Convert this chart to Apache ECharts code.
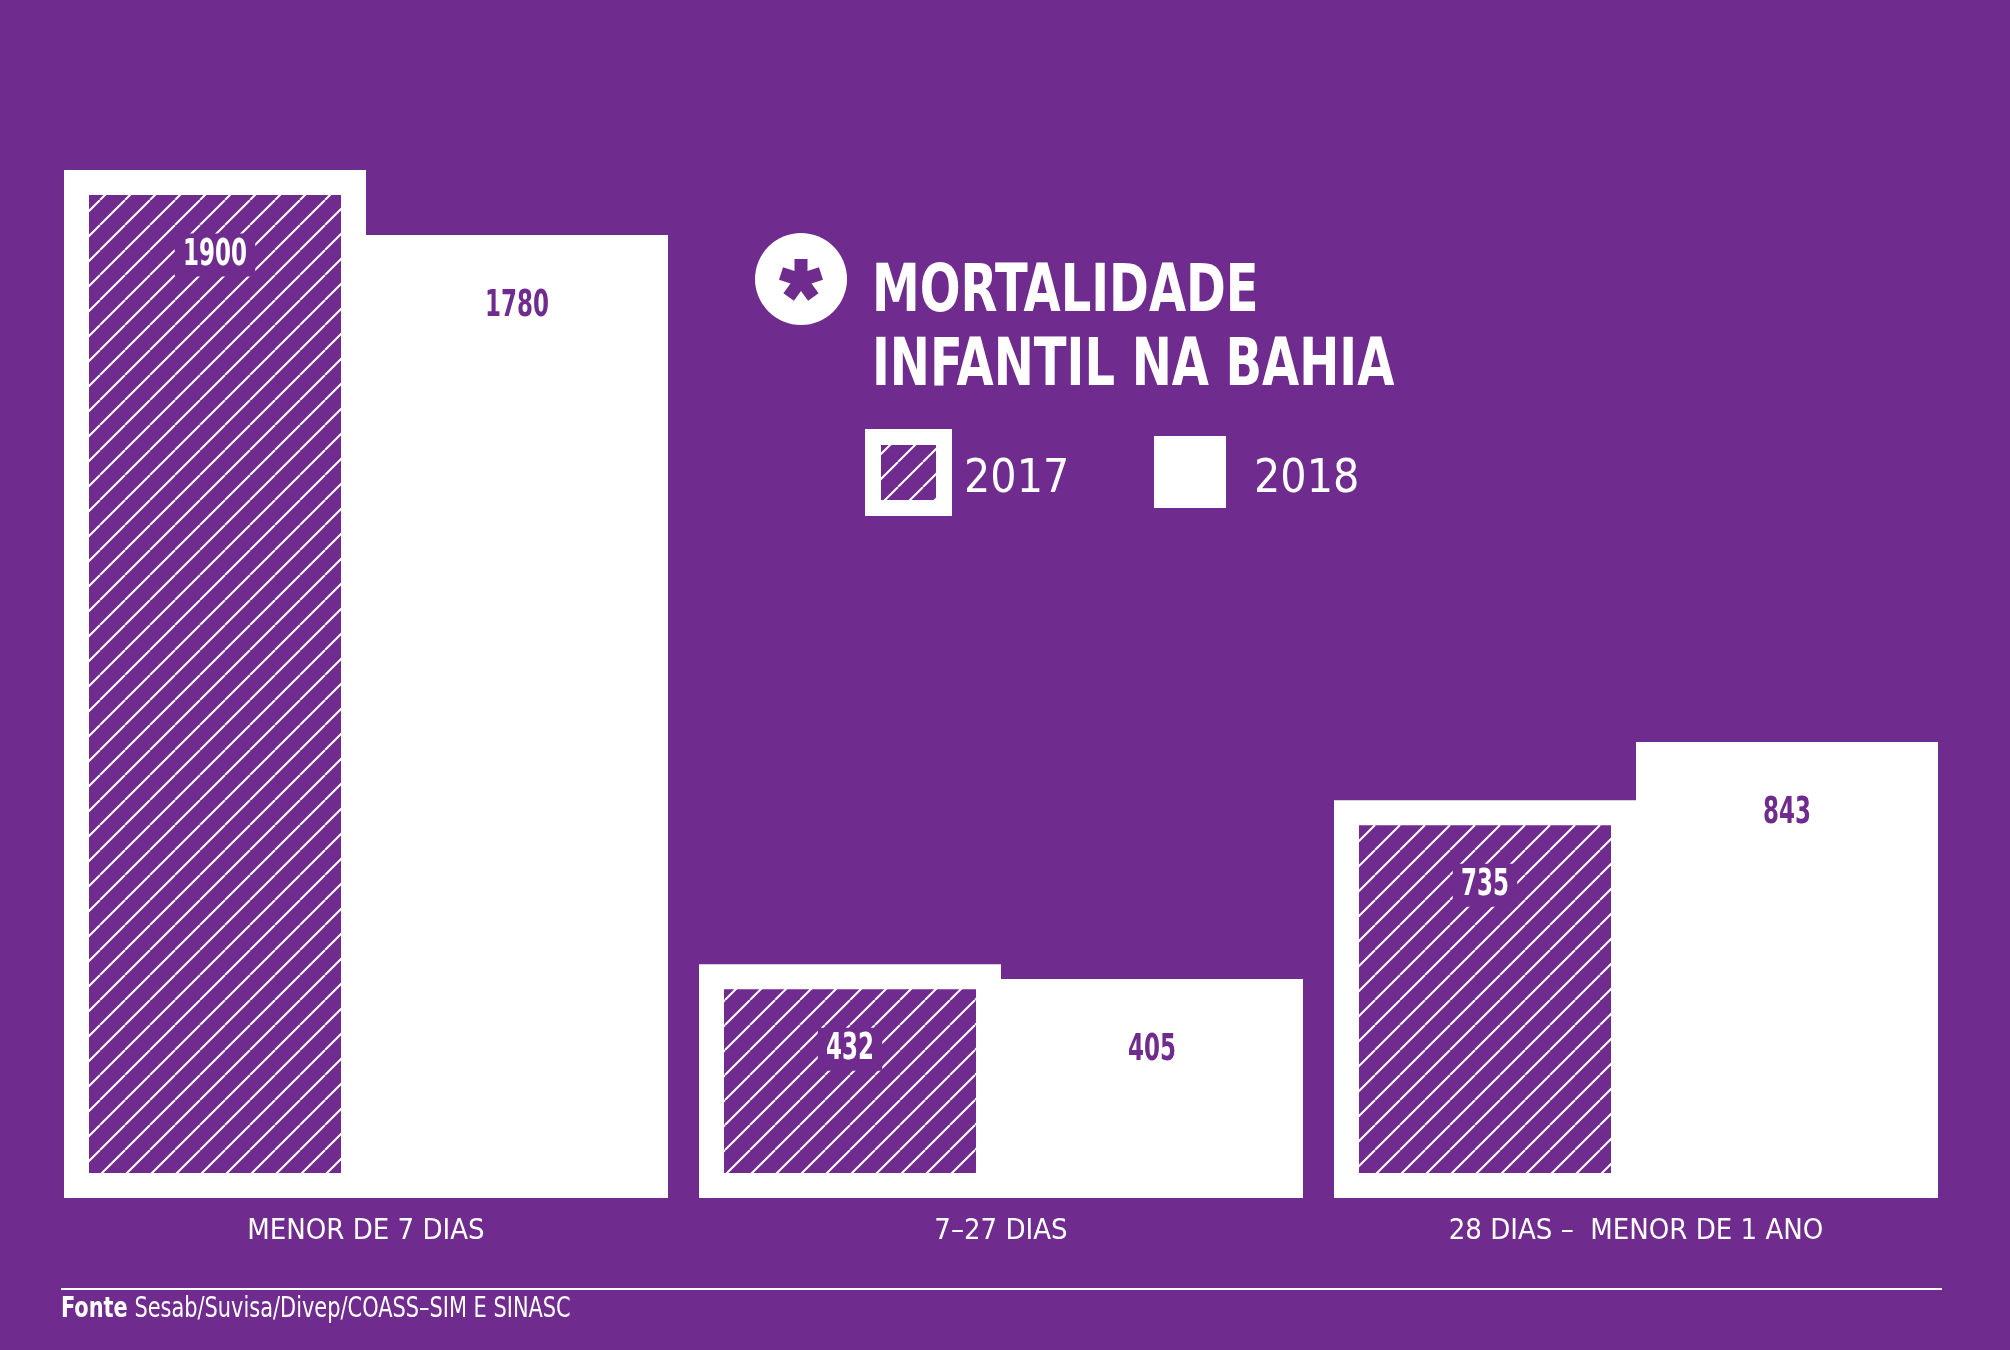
<!DOCTYPE html>
<html>
<head>
<meta charset="utf-8">
<script src="https://cdn.jsdelivr.net/npm/echarts@6/dist/echarts.min.js"></script>
<style>
    html, body, #chart {
        width: 100%;
        height: 100%;
        margin: 0px;
    }
</style>
</head>
<body>
<div id="chart"></div>
<script>
    var categories = ['MENOR DE 7 DIAS', '7–27 DIAS', '28 DIAS –  MENOR DE 1 ANO'];
    var values2017 = [1900, 432, 735];
    var values2018 = [1780, 405, 843];

    var PURPLE = '#6f2c8e';
    var COND = '"DejaVu Sans Condensed", "Liberation Sans Narrow", sans-serif';
    var BAR_W = 302;      // width of each bar
    var FRAME = 25;       // white frame around the hatched 2017 bar
    var SQUEEZE = 0.69;   // the source uses a very condensed face for the numbers

    // diagonal hatch tile
    function makeHatch() {
        var s = 25;
        var c = document.createElement('canvas');
        c.width = s;
        c.height = s;
        var g = c.getContext('2d');
        g.fillStyle = PURPLE;
        g.fillRect(0, 0, s, s);
        g.strokeStyle = '#fff';
        g.lineWidth = 2;
        g.beginPath();
        for (var k = -1; k <= 1; k++) {
            g.moveTo(k * s, s);
            g.lineTo(k * s + s, 0);
        }
        g.stroke();
        return c;
    }
    var hatch = { image: makeHatch(), repeat: 'repeat' };

    function valueText(x, y, v, color, bg) {
        return {
            type: 'text',
            x: x,
            y: y,
            scaleX: SQUEEZE,
            style: {
                text: String(v),
                fill: color,
                fontSize: 37,
                fontWeight: 'bold',
                fontFamily: COND,
                align: 'center',
                verticalAlign: 'middle',
                backgroundColor: bg,
                padding: bg ? [3, 12] : 0
            }
        };
    }

    // hatched inside of the 2017 bar plus its label
    function render2017(params, api) {
        var i = api.value(0);
        var v = api.value(1);
        var top = api.coord([i, v]);
        var base = api.coord([i, 0]);
        var x = top[0] - BAR_W;
        return {
            type: 'group',
            children: [{
                type: 'rect',
                shape: { x: x + FRAME, y: top[1] + FRAME, width: BAR_W - 2 * FRAME, height: base[1] - top[1] - 2 * FRAME },
                style: { fill: hatch }
            }, valueText(x + BAR_W / 2, top[1] + 85, v, '#fff', PURPLE)]
        };
    }

    // label of the 2018 bar
    function render2018(params, api) {
        var i = api.value(0);
        var v = api.value(1);
        var top = api.coord([i, v]);
        return valueText(top[0] + BAR_W / 2, top[1] + 71, v, PURPLE, null);
    }

    function legendText(padLeft) {
        return {
            color: '#fff', fontSize: 46, fontFamily: COND, padding: [0, 0, 0, padLeft],
            rich: { a: { color: '#fff', fontSize: 46, fontFamily: COND, padding: [16, 0, 0, 0] } }
        };
    }

    var myChart = echarts.init(document.getElementById('chart'));
    var option = {
        backgroundColor: PURPLE,
        animation: false,
        legend: [{
            data: [{ name: '2017', icon: 'rect', itemStyle: { color: hatch, borderColor: '#fff', borderWidth: 16 } }],
            formatter: '{a|{name}}',
            left: 865,
            top: 429,
            padding: 0,
            itemWidth: 71,
            itemHeight: 71,
            selectedMode: false,
            textStyle: legendText(15)
        }, {
            data: [{ name: '2018', icon: 'rect', itemStyle: { color: '#fff', borderWidth: 0 } }],
            formatter: '{a|{name}}',
            left: 1154,
            top: 436,
            padding: 0,
            itemWidth: 72,
            itemHeight: 72,
            selectedMode: false,
            textStyle: legendText(23)
        }],
        grid: { left: 48.5, right: 56.5, top: 116, bottom: 152 },
        xAxis: {
            type: 'category',
            data: categories,
            axisLine: { show: false },
            axisTick: { show: false },
            axisLabel: { color: '#fff', fontSize: 29, fontFamily: COND, margin: 19, interval: 0 }
        },
        yAxis: {
            type: 'value',
            min: 0,
            max: 2000,
            show: false,
            splitLine: { show: false }
        },
        graphic: [{
            type: 'text',
            x: 872,
            y: 257,
            scaleX: 0.82,
            style: {
                text: 'MORTALIDADE\nINFANTIL NA BAHIA',
                fill: '#fff',
                fontSize: 65,
                fontWeight: 'bold',
                fontFamily: COND,
                lineHeight: 74,
                verticalAlign: 'top'
            }
        }, {
            type: 'circle',
            shape: { cx: 801, cy: 279, r: 46 },
            style: { fill: '#fff' }
        }, {
            type: 'group',
            x: 801,
            y: 280,
            children: [0, 1, 2, 3, 4].map(function (k) {
                return {
                    type: 'rect',
                    rotation: k * Math.PI * 2 / 5,
                    shape: { x: -6.5, y: -21, width: 13, height: 21 },
                    style: { fill: PURPLE }
                };
            })
        }, {
            type: 'line',
            shape: { x1: 61, y1: 1289, x2: 1942, y2: 1289 },
            style: { stroke: '#fff', lineWidth: 2 }
        }, {
            type: 'text',
            x: 61,
            y: 1296,
            scaleX: 0.83,
            style: {
                text: '{b|Fonte} Sesab/Suvisa/Divep/COASS–SIM E SINASC',
                fill: '#fff',
                fontSize: 28,
                fontFamily: COND,
                verticalAlign: 'top',
                rich: { b: { fill: '#fff', fontSize: 28, fontWeight: 'bold', fontFamily: COND } }
            }
        }],
        series: [{
            name: '2017',
            type: 'bar',
            data: values2017,
            barGap: 0,
            barWidth: BAR_W,
            itemStyle: { color: '#fff' }
        }, {
            name: '2018',
            type: 'bar',
            data: values2018,
            barWidth: BAR_W,
            itemStyle: { color: '#fff' }
        }, {
            name: '2017',
            type: 'custom',
            renderItem: render2017,
            data: values2017.map(function (v, i) { return [i, v]; }),
            encode: { x: 0, y: 1 },
            z: 3
        }, {
            name: '2018',
            type: 'custom',
            renderItem: render2018,
            data: values2018.map(function (v, i) { return [i, v]; }),
            encode: { x: 0, y: 1 },
            z: 3
        }]
    };
    myChart.setOption(option);
</script>
</body>
</html>
